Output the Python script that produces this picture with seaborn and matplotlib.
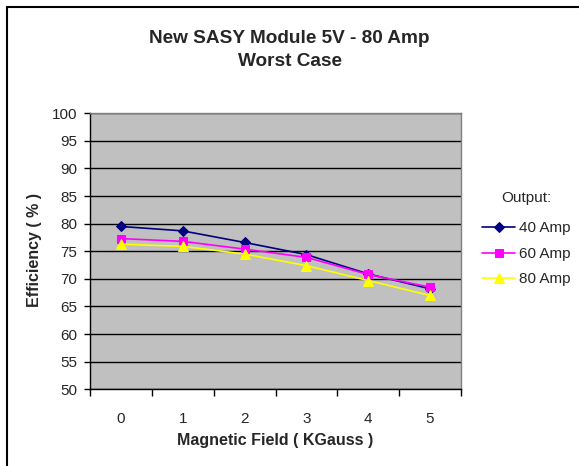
import numpy as np
import pandas as pd
import matplotlib
matplotlib.use("Agg")
import matplotlib.pyplot as plt
import matplotlib.patches as patches
import seaborn as sns

# data
field = [0, 1, 2, 3, 4, 5]
amp40 = [79.5, 78.7, 76.6, 74.4, 70.9, 68.2]
amp60 = [77.3, 76.8, 75.4, 73.9, 70.8, 68.5]
amp80 = [76.3, 75.9, 74.5, 72.4, 69.7, 67.0]
series_names = ["40 Amp", "60 Amp", "80 Amp"]
y_ticks = [50, 55, 60, 65, 70, 75, 80, 85, 90, 95, 100]

df = pd.DataFrame({
    "field": field * 3,
    "eff": amp40 + amp60 + amp80,
    "series": [s for s in series_names for _ in field],
})

sns.set_style("white")
plt.rcParams["font.family"] = ["Liberation Sans", "DejaVu Sans"]

fig = plt.figure(figsize=(5.79, 4.66), dpi=100)
ax = fig.add_axes([90 / 579, 1 - 389.3 / 466, 371 / 579, 276 / 466])
ax.set_facecolor("#C0C0C0")

palette = {"40 Amp": "#000080", "60 Amp": "#FF00FF", "80 Amp": "#FFFF00"}
markers = {"40 Amp": "D", "60 Amp": "s", "80 Amp": "^"}
sizes = {"40 Amp": 5, "60 Amp": 6, "80 Amp": 7}

for name in series_names:
    sub = df[df["series"] == name]
    sns.lineplot(data=sub, x="field", y="eff", ax=ax, color=palette[name],
                 marker=markers[name], markersize=sizes[name],
                 markeredgecolor=palette[name], linewidth=1.2, label=name)

ax.set_xlim(-0.5, 5.5)
ax.set_ylim(50, 100)
ax.set_yticks(y_ticks)
ax.set_xticks(field)
ax.set_xticks(np.arange(-0.5, 6, 1), minor=True)
ax.yaxis.grid(True, color="black", linewidth=1)
ax.xaxis.grid(False)

ax.tick_params(axis="y", which="major", direction="out", length=4, width=1,
               color="black", labelsize=11, pad=5, left=True)
ax.tick_params(axis="x", which="major", length=0, labelsize=11, pad=16)
ax.tick_params(axis="x", which="minor", direction="out", length=5, width=1,
               color="black", bottom=True)

for side in ["top", "right"]:
    ax.spines[side].set_color("#808080")
    ax.spines[side].set_linewidth(1)
for side in ["left", "bottom"]:
    ax.spines[side].set_color("black")
    ax.spines[side].set_linewidth(1)

ax.set_xlabel("Magnetic Field ( KGauss )", fontsize=11.5, fontweight="bold")
ax.set_ylabel("Efficiency ( % )", fontsize=11.5, fontweight="bold")
ax.xaxis.set_label_coords(0.5, -(433.5 - 389.3) / 276)
ax.yaxis.set_label_coords(-(90 - 42) / 371, 0.505)

fig.text(0.5, 1 - 50 / 466, "New SASY Module 5V - 80 Amp\nWorst Case",
         ha="center", va="center", fontsize=13.7, fontweight="bold",
         linespacing=1.5)

handles, labels = ax.get_legend_handles_labels()
ax.legend_.remove()
leg = fig.legend(handles, labels, title="Output:", loc="upper left",
                 bbox_to_anchor=(468 / 579, 1 - 177 / 466), frameon=False,
                 fontsize=11, title_fontsize=11, handlelength=2.2,
                 handletextpad=0.25, labelspacing=0.75)
leg._legend_box.sep = 12

# chart area border
fig.patches.append(patches.Rectangle((7 / 579, -0.05), 1.1, 1.05 - 7 / 466,
                                     transform=fig.transFigure, fill=False,
                                     edgecolor="black", linewidth=1.5))

fig.savefig("out.png", dpi=100)
